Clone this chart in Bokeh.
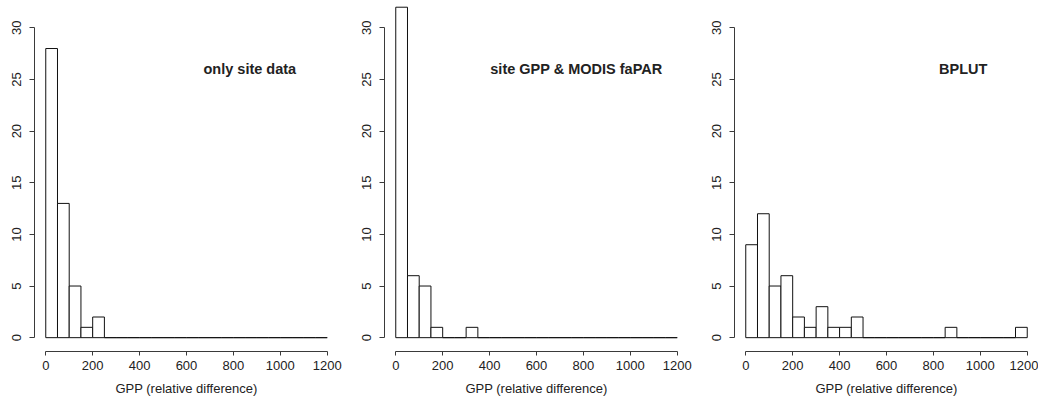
from bokeh.plotting import figure
from bokeh.layouts import row
from bokeh.models import Range1d, FixedTicker
from bokeh.core.properties import value
from bokeh.embed import file_html
from bokeh.resources import INLINE

# Histogram bin edges (width 50, 0..1200)
bin_edges = list(range(0, 1250, 50))

counts_site = [28, 13, 5, 1, 2, 0, 0, 0, 0, 0, 0, 0,
               0, 0, 0, 0, 0, 0, 0, 0, 0, 0, 0, 0]
counts_modis = [32, 6, 5, 1, 0, 0, 1, 0, 0, 0, 0, 0,
                0, 0, 0, 0, 0, 0, 0, 0, 0, 0, 0, 0]
counts_bplut = [9, 12, 5, 6, 2, 1, 3, 1, 1, 2, 0, 0,
                0, 0, 0, 0, 0, 1, 0, 0, 0, 0, 0, 1]

titles = ["only site data", "site GPP & MODIS faPAR", "BPLUT"]
title_x = [870, 770, 927]
title_y = [26.0, 26.0, 26.0]

x_ticks = [0, 200, 400, 600, 800, 1000, 1200]
y_ticks = [0, 5, 10, 15, 20, 25, 30]
x_label = "GPP (relative difference)"

FONT = "Liberation Sans"
AXFONT = "Arial"
TXT = "#222222"
AX = "#3a3a3a"


def make_panel(counts, title, tx, ty, width, left):
    frame_w = 304
    p = figure(width=width, height=401, output_backend="svg", toolbar_location=None,
               x_range=Range1d(-48, 1248), y_range=Range1d(-1.34, 32.65),
               min_border_left=left, min_border_right=width - left - frame_w,
               min_border_top=0, min_border_bottom=50)
    p.outline_line_color = None
    p.grid.visible = False
    p.background_fill_color = "white"
    p.border_fill_color = "white"

    p.quad(left=bin_edges[:-1], right=bin_edges[1:], bottom=0, top=counts,
           fill_color="white", line_color="#111111", line_width=1)

    p.text(x=[tx], y=[ty], text=[title], text_font=value(FONT), text_font_style="bold",
           text_font_size="14.5px", text_align="center", text_baseline="middle",
           text_color=TXT)

    xa = p.xaxis[0]
    xa.ticker = FixedTicker(ticks=x_ticks)
    xa.bounds = (0, 1200)
    xa.axis_label = x_label
    xa.axis_label_text_font = AXFONT
    xa.axis_label_text_font_style = "normal"
    xa.axis_label_text_font_size = "13px"
    xa.axis_label_text_color = TXT
    xa.axis_label_standoff = 8
    xa.major_label_text_font = AXFONT
    xa.major_label_text_font_size = "13px"
    xa.major_label_text_color = TXT
    xa.major_label_standoff = 5
    xa.major_tick_in = 0
    xa.major_tick_out = 4
    xa.minor_tick_in = 0
    xa.minor_tick_out = 0
    xa.axis_line_color = AX
    xa.major_tick_line_color = AX

    ya = p.yaxis[0]
    ya.ticker = FixedTicker(ticks=y_ticks)
    ya.bounds = (0, 30)
    ya.major_label_orientation = "vertical"
    ya.major_label_text_font = AXFONT
    ya.major_label_text_font_size = "13px"
    ya.major_label_text_color = TXT
    ya.major_label_standoff = 8
    ya.major_tick_in = 0
    ya.major_tick_out = 5
    ya.minor_tick_in = 0
    ya.minor_tick_out = 0
    ya.axis_line_color = AX
    ya.major_tick_line_color = AX
    return p


p1 = make_panel(counts_site, titles[0], title_x[0], title_y[0], 358, 34)
p2 = make_panel(counts_modis, titles[1], title_x[1], title_y[1], 350, 26)
p3 = make_panel(counts_bplut, titles[2], title_x[2], title_y[2], 330, 26)

layout = row(p1, p2, p3, spacing=0)
open("out.html", "w").write(file_html(layout, INLINE))
